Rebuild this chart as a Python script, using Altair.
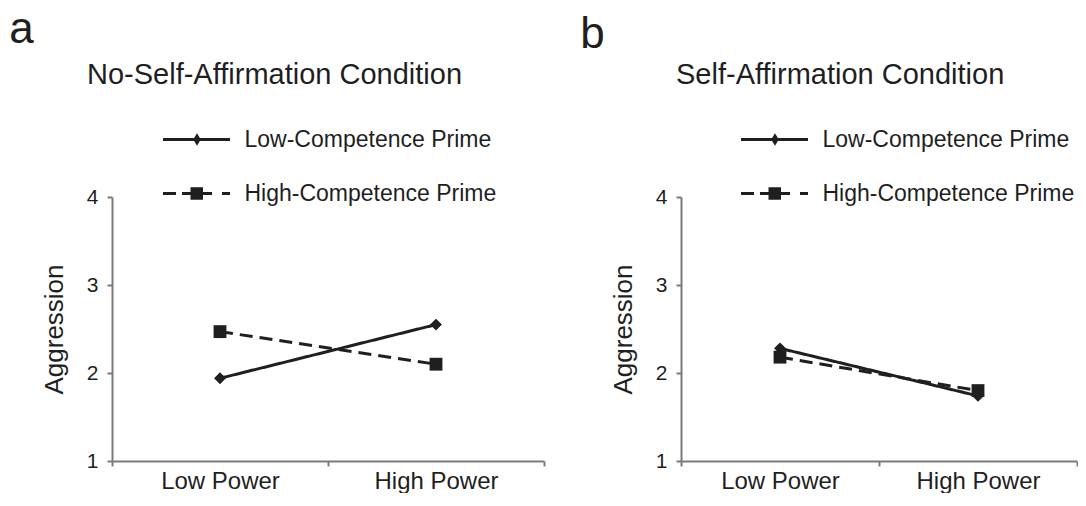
import altair as alt
import pandas as pd

FONT = "Liberation Sans"
INK = "#1f1f1f"
AXIS = "#7a7a7a"

panel_letters = ["a", "b"]
conditions = ["No-Self-Affirmation Condition", "Self-Affirmation Condition"]
power_levels = ["Low Power", "High Power"]
primes = ["Low-Competence Prime", "High-Competence Prime"]
no_aff_low_comp = [1.94, 2.55]
no_aff_high_comp = [2.47, 2.10]
aff_low_comp = [2.28, 1.74]
aff_high_comp = [2.18, 1.80]
y_ticks = [1, 2, 3, 4]

# legend glyphs (unit = symbol radius): solid line + diamond, dashed line + square
legend_paths = [
    "M-1,-0.16L5.7,-0.16L5.7,0.16L-1,0.16Z"
    "M2.02,0L2.4,-0.62L2.78,0L2.4,0.62Z",
    "M-1,-0.16L0.3,-0.16L0.3,0.16L-1,0.16Z"
    "M0.9,-0.16L3.9,-0.16L3.9,0.16L0.9,0.16Z"
    "M4.9,-0.16L5.7,-0.16L5.7,0.16L4.9,0.16Z"
    "M1.75,-0.62L3.0,-0.62L3.0,0.62L1.75,0.62Z",
]
dash_styles = [[1, 0], [13, 7]]


def frame(low, high):
    rows = []
    for p, v in zip(power_levels, low):
        rows.append({"Power": p, "Prime": primes[0], "Aggression": v})
    for p, v in zip(power_levels, high):
        rows.append({"Power": p, "Prime": primes[1], "Aggression": v})
    return pd.DataFrame(rows)


def panel(df, letter, title, title_dx, legend_x, letter_dx, letter_offset, width):
    base = alt.Chart(df)
    x = alt.X(
        "Power:N",
        sort=power_levels,
        scale=alt.Scale(paddingInner=0, paddingOuter=0),
        axis=alt.Axis(title=None, labelAngle=0, tickBand="extent",
                      labelFontSize=24, labelPadding=3),
    )
    y = alt.Y(
        "Aggression:Q",
        scale=alt.Scale(domain=[1, 4], nice=False, zero=False),
        axis=alt.Axis(values=y_ticks, title="Aggression", grid=False,
                      labelFontSize=21, labelPadding=9, titleFontSize=26,
                      titlePadding=19, titleFontWeight="normal",
                      titleFont=FONT, titleColor=INK),
    )
    leg = alt.Legend(
        title=None, orient="none", legendX=legend_x, legendY=-69,
        padding=0, symbolSize=400, symbolStrokeWidth=0,
        symbolFillColor=INK, symbolStrokeColor=INK,
        labelFont=FONT, labelFontSize=23, labelColor=INK, labelLimit=0,
        labelOffset=60, rowPadding=30,
    )
    dash = alt.StrokeDash("Prime:N", scale=alt.Scale(domain=primes, range=dash_styles), legend=leg)
    lines = base.mark_line(color=INK, strokeWidth=3).encode(x=x, y=y, strokeDash=dash)
    diamonds = base.transform_filter(alt.datum.Prime == primes[0]).mark_point(
        shape="diamond", filled=True, size=140, color=INK, opacity=1
    ).encode(x=x, y=y)
    squares = base.transform_filter(alt.datum.Prime == primes[1]).mark_point(
        shape="square", filled=True, size=165, color=INK, opacity=1
    ).encode(x=x, y=y)
    legend_layer = base.transform_filter("false").mark_point(
        filled=True, color=INK, opacity=1
    ).encode(
        shape=alt.Shape("Prime:N", scale=alt.Scale(domain=primes, range=legend_paths), legend=leg),
        strokeDash=dash,
    )
    layer = alt.layer(lines, diamonds, squares, legend_layer).properties(
        width=width, height=264,
        title=alt.Title(title, anchor="start", frame="group", dx=title_dx, offset=96,
                        fontSize=29, font=FONT, fontWeight="normal", color=INK),
    )
    return alt.vconcat(layer).properties(
        title=alt.Title(letter, anchor="start", dx=letter_dx, offset=letter_offset,
                        fontSize=44, font=FONT, fontWeight="normal", color=INK)
    )


left = panel(frame(no_aff_low_comp, no_aff_high_comp), panel_letters[0], conditions[0],
             -25, 49.5, -32, 9, 432)
right = panel(frame(aff_low_comp, aff_high_comp), panel_letters[1], conditions[1],
              -5, 58.5, -30, 4, 396)

chart = alt.hconcat(left, right, spacing=35).resolve_scale(
    shape="independent", strokeDash="independent"
).resolve_legend(
    shape="independent", strokeDash="independent"
).properties(
    padding={"left": 1, "top": 0, "right": 0, "bottom": 0}
).configure_view(stroke=None).configure_axis(
    domainColor=AXIS, domainWidth=2, tickColor=AXIS, tickWidth=2, tickSize=5,
    labelFont=FONT, labelColor=INK, titleFont=FONT,
).configure_concat(spacing=35)

chart.save("out.html", embed_options={"renderer": "svg", "actions": False})
